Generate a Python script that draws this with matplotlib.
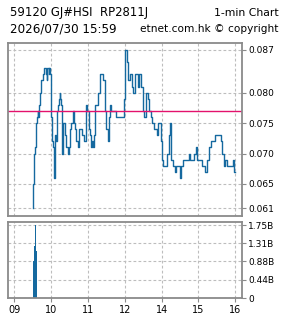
import matplotlib
matplotlib.use("Agg")
import matplotlib.pyplot as plt
from matplotlib.ticker import FixedLocator, FixedFormatter

# ---- data ----
price_times = ["09:30","09:31","09:32","09:33","09:35","09:36","09:37","09:38","09:39","09:40",
               "09:41","09:42","09:44","09:47","09:49","09:52","09:53","09:54","09:56","09:57",
               "09:58","09:59","10:01","10:03","10:05","10:07","10:08","10:10","10:12","10:13",
               "10:14","10:15","10:16","10:18","10:20","10:22","10:24","10:27","10:29","10:31",
               "10:33","10:35","10:37","10:39","10:40","10:44","10:46","10:50","10:53","10:56",
               "10:59","11:01","11:03","11:05","11:07","11:08","11:10","11:12","11:17","11:19",
               "11:21","11:25","11:27","11:28","11:30","11:32","11:34","11:36","11:38","11:45",
               "11:47","11:58",
               "13:00","13:01","13:03","13:05","13:06","13:08","13:12","13:14","13:16","13:21",
               "13:23","13:27","13:29","13:30","13:32","13:35","13:37","13:39","13:42","13:45",
               "13:47","13:52","13:54","13:59","14:01","14:03","14:09","14:12","14:14","14:16",
               "14:18","14:21","14:24","14:30","14:31","14:32","14:34","14:44","14:46","14:52",
               "14:56","14:58","15:06","15:10","15:14","15:17","15:20","15:27","15:36","15:39",
               "15:41","15:44","15:47","15:56","15:58","16:00"]
price_vals = [0.061,0.065,0.070,0.071,0.071,0.075,0.076,0.077,0.076,0.077,
              0.078,0.080,0.082,0.083,0.084,0.083,0.082,0.084,0.083,0.084,
              0.083,0.076,0.072,0.071,0.066,0.073,0.072,0.077,0.078,0.079,
              0.080,0.079,0.078,0.070,0.075,0.073,0.071,0.070,0.071,0.074,
              0.075,0.077,0.075,0.074,0.072,0.071,0.074,0.073,0.072,0.078,
              0.077,0.074,0.073,0.071,0.072,0.071,0.073,0.078,0.080,0.083,
              0.083,0.082,0.081,0.077,0.074,0.072,0.076,0.078,0.077,0.076,
              0.076,0.079,
              0.086,0.087,0.085,0.083,0.082,0.083,0.081,0.080,0.083,0.081,
              0.083,0.081,0.079,0.077,0.076,0.080,0.079,0.077,0.076,0.075,
              0.074,0.073,0.075,0.072,0.069,0.068,0.070,0.073,0.075,0.069,
              0.068,0.067,0.068,0.066,0.067,0.068,0.069,0.070,0.069,0.070,
              0.071,0.069,0.068,0.067,0.069,0.071,0.072,0.073,0.072,0.070,
              0.068,0.069,0.068,0.069,0.067,0.067]
prev_close = 0.077

vol_times = ["09:30","09:31","09:32","09:33","09:34","09:35","09:36"]
vol_vals = [0.88e9, 0.88e9, 1.25e9, 1.25e9, 1.75e9, 1.13e9, 1.13e9]

x_tick_labels = ["09","10","11","12","14","15","16"]
price_ticks = [0.061, 0.065, 0.070, 0.075, 0.080, 0.087]
price_tick_labels = ["0.061","0.065","0.070","0.075","0.080","0.087"]
vol_ticks = [0, 0.44e9, 0.88e9, 1.31e9, 1.75e9]
vol_tick_labels = ["0","0.44B","0.88B","1.31B","1.75B"]

title_left_1 = "59120 GJ#HSI  RP2811J"
title_right_1 = "1-min Chart"
title_left_2 = "2026/07/30 15:59"
title_right_2 = "etnet.com.hk \u00a9 copyright"


def to_x(t):
    """Clock time -> trading-hour axis with the lunch break (12:00-13:00) removed."""
    h, m = map(int, t.split(":"))
    v = h + m / 60.0
    return v - 1.0 if v >= 13 else v


tick_pos = [to_x(f"{int(l):02d}:00") for l in x_tick_labels]

px = [to_x(t) for t in price_times]
vx = [to_x(t) for t in vol_times]

LINE = "#15699f"
PINK = "#e3126c"
SPINE = "#8a8a8a"
GRID = "#bdbdbd"
FONT = "DejaVu Sans"

plt.rcParams["font.family"] = FONT

fig = plt.figure(figsize=(2.85, 3.18), dpi=100)
ax = fig.add_axes([8/285, 1-216/318, 234/285, (216-42.5)/318])
axv = fig.add_axes([8/285, 1-298.3/318, 234/285, (298.3-221.7)/318])

xlim = (8.829, 15.182)

for a in (ax, axv):
    a.set_xlim(*xlim)
    for s in a.spines.values():
        s.set_color(SPINE)
        s.set_linewidth(1.3)
    a.xaxis.set_major_locator(FixedLocator(tick_pos))
    a.yaxis.tick_right()
    a.tick_params(axis="both", colors="black", labelsize=6.5, length=3,
                  width=0.8, color=SPINE, pad=1.5)
    a.grid(True, color=GRID, linestyle=(0, (2.5, 2)), linewidth=0.8)
    a.set_axisbelow(True)

ax.step(px, price_vals, where="post", color=LINE, linewidth=1.0)
ax.axhline(prev_close, color=PINK, linewidth=1.0)
ax.set_ylim(0.05974, 0.08823)
ax.yaxis.set_major_locator(FixedLocator(price_ticks))
ax.yaxis.set_major_formatter(FixedFormatter(price_tick_labels))
ax.tick_params(axis="x", labelbottom=False, length=0)

axv.bar(vx, vol_vals, width=1/60, align="edge", color=LINE, linewidth=0)
axv.set_ylim(0, 1.829e9)
axv.yaxis.set_major_locator(FixedLocator(vol_ticks))
axv.yaxis.set_major_formatter(FixedFormatter(vol_tick_labels))
axv.xaxis.set_major_formatter(FixedFormatter(x_tick_labels))
axv.tick_params(axis="x", labelsize=7)

fig.text(10/285, 1-16/318, title_left_1, fontsize=8.4, ha="left", va="baseline")
fig.text(279/285, 1-16/318, title_right_1, fontsize=7.8, ha="right", va="baseline")
fig.text(10/285, 1-32.5/318, title_left_2, fontsize=8.6, ha="left", va="baseline")
fig.text(279/285, 1-32.5/318, title_right_2, fontsize=7.6, ha="right", va="baseline")

fig.savefig("out.png", dpi=100, facecolor="white")
